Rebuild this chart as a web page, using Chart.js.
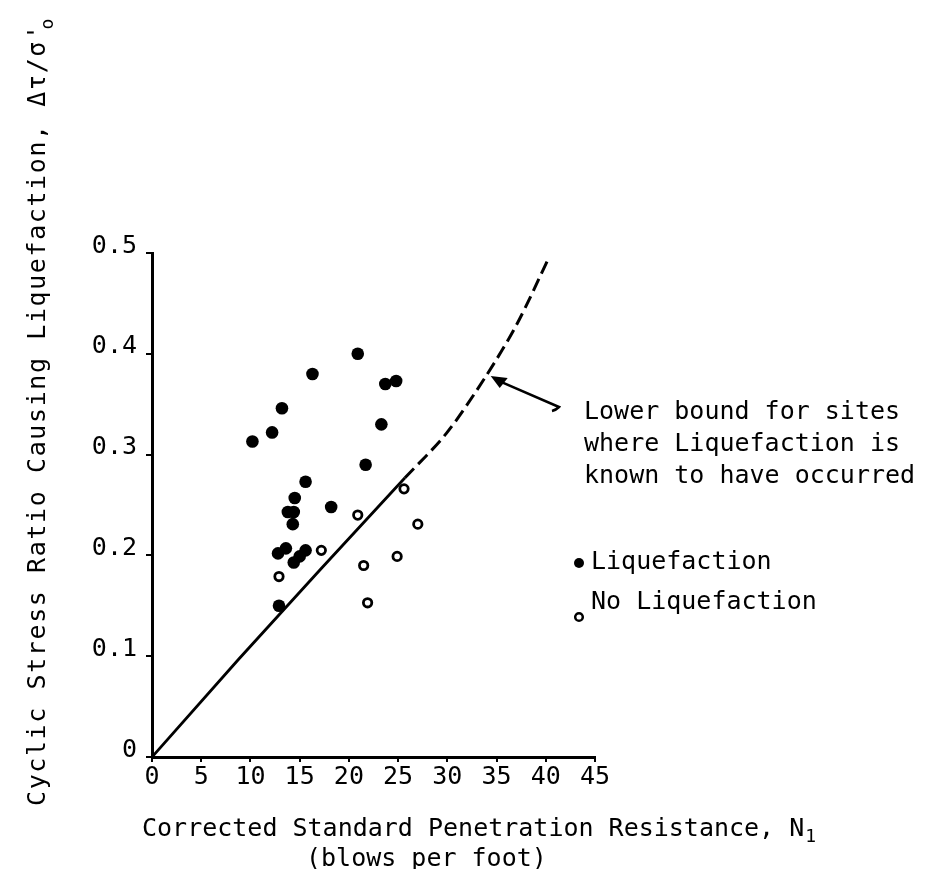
<!DOCTYPE html>
<html>
<head>
<meta charset="utf-8">
<script src="https://cdn.jsdelivr.net/npm/chart.js@4.4.1/dist/chart.umd.min.js"></script>
<style>
  html, body { margin: 0; padding: 0; background: #fff; }
  #wrap { width: 934px; height: 869px; }
</style>
</head>
<body>
<div id="wrap"><canvas id="chart" width="934" height="869"></canvas></div>
<script>
// Sites with liquefaction [N1, stress ratio]
var liqN   = [10.2, 12.2, 13.2, 16.3, 20.9, 23.7, 24.8, 23.3, 21.7, 15.6, 14.5, 18.2, 13.8, 14.4, 14.3, 12.8, 13.6, 15.6, 15.0, 14.4, 12.9];
var liqCSR = [0.313, 0.322, 0.346, 0.380, 0.400, 0.370, 0.373, 0.330, 0.290, 0.273, 0.257, 0.248, 0.243, 0.243, 0.231, 0.202, 0.207, 0.205, 0.199, 0.193, 0.150];

// Sites without liquefaction
var noLiqN   = [20.9, 17.2, 25.6, 27.0, 24.9, 21.5, 12.9, 21.9];
var noLiqCSR = [0.240, 0.205, 0.266, 0.231, 0.199, 0.190, 0.179, 0.153];

// Lower bound curve: solid part, then dashed part
var boundN       = [0, 8.8, 17.1, 25.7];
var boundCSR     = [0, 0.097, 0.186, 0.277];
var boundDashN   = [25.7, 29.9, 34.0, 37.1, 40.3];
var boundDashCSR = [0.277, 0.321, 0.379, 0.430, 0.495];

// Axis ticks
var xTicks = [0, 5, 10, 15, 20, 25, 30, 35, 40, 45];
var yTicks = [0, 0.1, 0.2, 0.3, 0.4, 0.5];

function pts(xs, ys) {
  return xs.map(function (x, i) { return { x: x, y: ys[i] }; });
}

var FONT = '"DejaVu Sans Mono", monospace';

// Titles, annotation and legend drawn on top of the chart
var notes = {
  id: 'notes',
  afterDraw: function (chart) {
    var ctx = chart.ctx;
    var xs = chart.scales.x, ys = chart.scales.y;
    ctx.save();
    ctx.fillStyle = '#000';
    ctx.strokeStyle = '#000';
    ctx.font = '25px ' + FONT;
    ctx.textBaseline = 'alphabetic';
    ctx.textAlign = 'left';

    // x title
    var t1 = 'Corrected Standard Penetration Resistance, N';
    ctx.fillText(t1, 142, 836);
    var w1 = ctx.measureText(t1).width;
    ctx.font = '18px ' + FONT;
    ctx.fillText('1', 142 + w1 + 1, 842);
    ctx.font = '25px ' + FONT;
    ctx.fillText('(blows per foot)', 306, 866);

    // y title
    ctx.save();
    ctx.translate(45, 806);
    ctx.rotate(-Math.PI / 2);
    ctx.letterSpacing = '1.6px';
    var yt = 'Cyclic Stress Ratio Causing Liquefaction, \u0394\u03c4/\u03c3\'';
    ctx.fillText(yt, 0, 0);
    var wy = ctx.measureText(yt).width;
    ctx.font = '18px ' + FONT;
    ctx.fillText('o', wy - 6, 8);
    ctx.restore();

    // annotation text
    ctx.font = '25px ' + FONT;
    ctx.fillText('Lower bound for sites', 584, 419);
    ctx.fillText('where Liquefaction is', 584, 451);
    ctx.fillText('known to have occurred', 584, 483);

    // arrow to the curve
    var hx = xs.getPixelForValue(34.0) + 4;
    var hy = ys.getPixelForValue(0.379) + 1;
    ctx.lineWidth = 2.5;
    ctx.beginPath();
    ctx.moveTo(552, 411);
    ctx.quadraticCurveTo(556, 410, 559, 407);
    ctx.lineTo(hx + 8, hy + 5);
    ctx.stroke();
    ctx.beginPath();
    ctx.moveTo(hx, hy);
    ctx.lineTo(hx + 17, hy + 2);
    ctx.lineTo(hx + 9, hy + 12);
    ctx.closePath();
    ctx.fill();

    // legend
    ctx.beginPath();
    ctx.arc(579, 563, 5, 0, Math.PI * 2);
    ctx.fill();
    ctx.fillText('Liquefaction', 591, 569);
    ctx.lineWidth = 2.5;
    ctx.beginPath();
    ctx.arc(579, 617, 3.8, 0, Math.PI * 2);
    ctx.stroke();
    ctx.fillText('No Liquefaction', 591, 609);
    ctx.restore();
  }
};

var ctx = document.getElementById('chart').getContext('2d');
var chart = new Chart(ctx, {
  data: {
    datasets: [
      {
        type: 'line',
        data: pts(boundN, boundCSR),
        borderColor: '#000',
        borderWidth: 2.8,
        pointRadius: 0,
        fill: false,
        order: 3
      },
      {
        type: 'line',
        data: pts(boundDashN, boundDashCSR),
        borderColor: '#000',
        borderWidth: 3,
        borderDash: [13, 6],
        pointRadius: 0,
        tension: 0.3,
        fill: false,
        order: 3
      },
      {
        type: 'scatter',
        label: 'Liquefaction',
        data: pts(liqN, liqCSR),
        pointRadius: 6.3,
        pointBackgroundColor: '#000',
        pointBorderColor: '#000',
        pointBorderWidth: 0,
        order: 1
      },
      {
        type: 'scatter',
        label: 'No Liquefaction',
        data: pts(noLiqN, noLiqCSR),
        pointRadius: 4.2,
        pointBackgroundColor: '#fff',
        pointBorderColor: '#000',
        pointBorderWidth: 2.8,
        order: 1
      }
    ]
  },
  options: {
    responsive: false,
    animation: false,
    layout: { padding: { left: 0, right: 339, top: 253, bottom: 0 } },
    plugins: { legend: { display: false }, tooltip: { enabled: false } },
    scales: {
      x: {
        type: 'linear',
        min: 0,
        max: 45,
        afterBuildTicks: function (s) { s.ticks = xTicks.map(function (v) { return { value: v }; }); },
        afterFit: function (s) { s.height = 112; },
        ticks: { color: '#000', font: { family: FONT, size: 25 }, padding: 0, maxRotation: 0, autoSkip: false },
        grid: { drawOnChartArea: false, color: '#000', lineWidth: 2, tickLength: 5 },
        border: { color: '#000', width: 3 }
      },
      y: {
        min: 0,
        max: 0.5,
        afterBuildTicks: function (s) { s.ticks = yTicks.map(function (v) { return { value: v }; }); },
        afterFit: function (s) { s.width = 152; },
        ticks: { color: '#000', font: { family: FONT, size: 25 }, padding: 9, labelOffset: -7, autoSkip: false },
        grid: { drawOnChartArea: false, color: '#000', lineWidth: 2, tickLength: 6 },
        border: { color: '#000', width: 3 }
      }
    }
  },
  plugins: [notes]
});
</script>
</body>
</html>
